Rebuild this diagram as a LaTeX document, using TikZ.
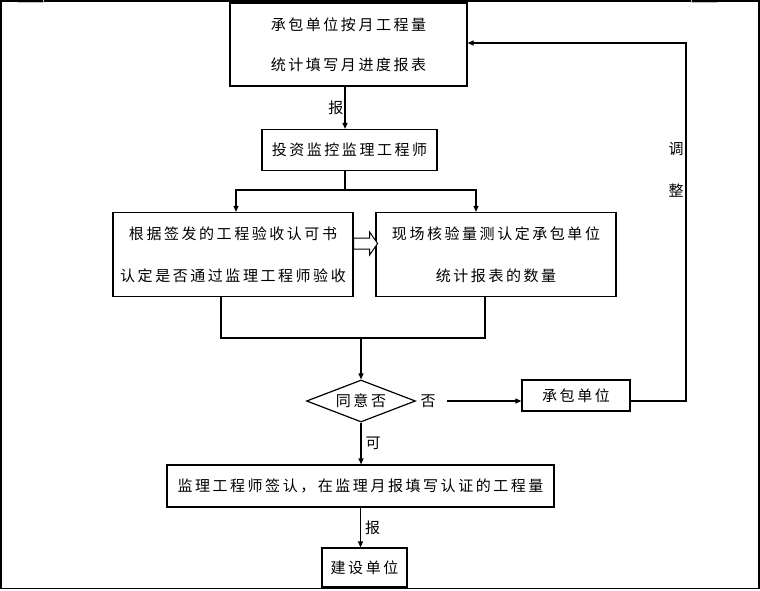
\documentclass[tikz,border=0pt]{standalone}
\usepackage{fontspec}
\setmainfont{Noto Sans CJK SC}[LetterSpace=17]
\usetikzlibrary{positioning,shapes.geometric,arrows.meta}

\begin{document}
\begin{tikzpicture}[x=1pt,y=-1pt,line width=1.2pt,
    font=\fontsize{15}{18}\selectfont,
    box/.style={draw=black,inner sep=0pt,align=center},
    arr/.style={-{Triangle[length=6pt,width=5pt]}}]
  \useasboundingbox (0,0) rectangle (760,590);
  \path[draw=black,line width=1.5pt] (0.75,0.75) rectangle (759,588.5);
  \path[draw=black!25,line width=1pt] (18,2) -- (43,2) -- (43,0);
  \path[draw=black!25,line width=1pt] (717,2) -- (691,2) -- (691,0);

  \node[box,minimum width=237pt,minimum height=83pt] (b1) at (348.5,44.5)
       {承包单位按月工程量\\[22pt]统计填写月进度报表};
  \node[box,minimum width=175pt,minimum height=41pt] (b2) at (349.5,150)
       {投资监控监理工程师};
  \node[box,minimum width=240pt,minimum height=84pt] (b3) at (233,254.5)
       {根据签发的工程验收认可书\\[24pt]认定是否通过监理工程师验收};
  \node[box,minimum width=240pt,minimum height=84pt] (b4) at (496,254.5)
       {现场核验量测认定承包单位\\[24pt]统计报表的数量};
  \node[draw=black,shape=diamond,aspect=2.5,inner sep=0pt,
        minimum width=109pt,minimum height=42pt] (d) at (361,401) {同意否};
  \node (no) at (428,401) {否};
  \node[box,minimum width=108pt,minimum height=31pt] (b5) at (576,395.5)
       {承包单位};
  \node[box,minimum width=387pt,minimum height=42pt] (b6) at (360.5,486)
       {监理工程师签认，在监理月报填写认证的工程量};
  \node[box,minimum width=85pt,minimum height=39pt] (b7) at (364.5,567.5)
       {建设单位};
  \node[align=center] (adj) at (676,170) {调\\[24pt]整};

  \coordinate (s1) at ([xshift=-3.5pt]b1.south);
  \path[draw=black,arr] (s1) -- (s1 |- b2.north)
       node[midway,left,inner sep=1pt] {报};

  \coordinate (split) at (345,190);
  \path[draw=black] (split |- b2.south) -- (split);
  \path[draw=black,arr] (split) -| ([xshift=3pt]b3.north);
  \path[draw=black,arr] (split) -| ([xshift=-20pt]b4.north);

  \coordinate (ha) at ([yshift=11pt]b3.east);
  \path[draw=black,fill=white,line width=1pt,shift={(ha)}]
       (0,-5.5) -- (16,-5.5) -- (16,-11.5) -- (24,0) -- (16,11.5)
       -- (16,5.5) -- (0,5.5) -- cycle;

  \coordinate (merge) at (361,338);
  \path[draw=black] ([xshift=-12pt]b3.south) |- (merge)
       -| ([xshift=-11pt]b4.south);
  \path[draw=black,arr] (merge) -- (d.north);

  \path[draw=black,arr] ([xshift=8pt]no.east) -- (b5.west |- no);
  \coordinate (turn) at (686,43);
  \path[draw=black,arr] (b5.east |- no) -| (turn) -- (b1.east |- turn);

  \path[draw=black,arr] (d.south) -- (d.south |- b6.north)
       node[midway,right,inner sep=4pt] {可};
  \path[draw=black,arr] (b6.south) -- (b6.south |- b7.north)
       node[midway,right,inner sep=4pt] {报};
\end{tikzpicture}
\end{document}
